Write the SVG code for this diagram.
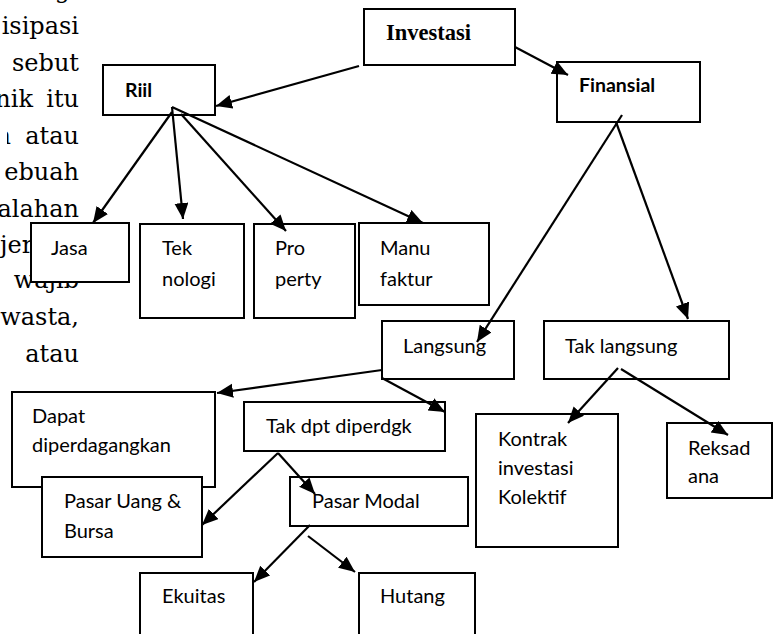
<svg xmlns="http://www.w3.org/2000/svg" width="776" height="634" viewBox="0 0 776 634">
<style>
.body{font-family:"DejaVu Serif","Liberation Serif",serif;font-size:24px;fill:#000}
.box{fill:#fff;stroke:#000;stroke-width:2}
.t{font-family:Lato,"Liberation Sans",sans-serif;font-size:20px;fill:#000}
.tb{font-family:Lato,"Liberation Sans",sans-serif;font-size:19.5px;font-weight:bold;fill:#000}
.ts{font-family:"Liberation Serif",serif;font-size:22.5px;font-weight:bold;fill:#000}
.c{stroke:#000;stroke-width:2.2;fill:none;marker-end:url(#ah)}
</style>
<defs>
<marker id="ah" markerUnits="userSpaceOnUse" markerWidth="18" markerHeight="16" refX="16" refY="7" orient="auto">
<path d="M0,0 L16,7 L0,14 z" fill="#000"/>
</marker>
<clipPath id="frag"><rect x="7" y="120" width="10" height="40"/></clipPath>
</defs>
<g id="bodytext" class="body" text-anchor="end">
<text x="70" y="-2">g</text>
<text x="79" y="34">isipasi</text>
<text x="79" y="71">sebut</text>
<text x="33" y="107">nik</text>
<text x="79" y="107">itu</text>
<text x="11" y="144" clip-path="url(#frag)">n</text>
<text x="79" y="144">atau</text>
<text x="79" y="180">ebuah</text>
<text x="79" y="217">alahan</text>
<text x="0" y="253" text-anchor="start">jer</text>
<text x="79" y="288">wajib</text>
<text x="79" y="325">wasta,</text>
<text x="79" y="362">atau</text>
</g>
<g id="investasi"><rect class="box" x="364" y="9" width="151" height="56"/><text class="ts" x="386" y="40">Investasi</text></g>
<g id="riil"><rect class="box" x="103" y="65" width="112" height="50"/><text class="tb" x="125" y="97">Riil</text></g>
<g id="finansial"><rect class="box" x="557" y="62" width="143" height="60"/><text class="tb" x="579" y="92">Finansial</text></g>
<g id="jasa"><rect class="box" x="31" y="223" width="98" height="59"/><text class="t" x="51" y="255">Jasa</text></g>
<g id="teknologi"><rect class="box" x="140" y="224" width="104" height="94"/><text class="t" x="162" y="255">Tek</text><text class="t" x="162" y="286">nologi</text></g>
<g id="property"><rect class="box" x="254" y="224" width="101" height="94"/><text class="t" x="275" y="255">Pro</text><text class="t" x="275" y="286">perty</text></g>
<g id="manufaktur"><rect class="box" x="359" y="223" width="130" height="82"/><text class="t" x="380" y="255">Manu</text><text class="t" x="380" y="286">faktur</text></g>
<g id="langsung"><rect class="box" x="382" y="321" width="132" height="58"/><text class="t" x="403" y="353">Langsung</text></g>
<g id="taklangsung"><rect class="box" x="544" y="321" width="185" height="58"/><text class="t" x="565" y="353">Tak langsung</text></g>
<g id="dapat"><rect class="box" x="12" y="392" width="203" height="95"/><text class="t" x="32" y="423">Dapat</text><text class="t" x="32" y="452">diperdagangkan</text></g>
<g id="takdpt"><rect class="box" x="244" y="402" width="201" height="49"/><text class="t" x="266" y="433">Tak dpt diperdgk</text></g>
<g id="pasaruang"><rect class="box" x="42" y="477" width="160" height="80"/><text class="t" x="64" y="508">Pasar Uang &amp;</text><text class="t" x="64" y="538">Bursa</text></g>
<g id="pasarmodal"><rect class="box" x="290" y="477" width="178" height="49"/><text class="t" x="312" y="508">Pasar Modal</text></g>
<g id="ekuitas"><rect class="box" x="140" y="573" width="113" height="70"/><text class="t" x="162" y="603">Ekuitas</text></g>
<g id="hutang"><rect class="box" x="359" y="573" width="116" height="70"/><text class="t" x="380" y="603">Hutang</text></g>
<g id="kontrak"><rect class="box" x="476" y="414" width="142" height="133"/><text class="t" x="498" y="446">Kontrak</text><text class="t" x="498" y="475">investasi</text><text class="t" x="498" y="504">Kolektif</text></g>
<g id="reksadana"><rect class="box" x="667" y="423" width="105" height="75"/><text class="t" x="688" y="455">Reksad</text><text class="t" x="688" y="483">ana</text></g>
<g id="connectors">
<line class="c" x1="359" y1="66" x2="216" y2="106"/>
<line class="c" x1="515" y1="47" x2="568" y2="75"/>
<line class="c" x1="172" y1="112" x2="93" y2="223"/>
<line class="c" x1="172" y1="107" x2="183" y2="219"/>
<line class="c" x1="181" y1="114" x2="286" y2="231"/>
<line class="c" x1="172" y1="107" x2="423" y2="223"/>
<line class="c" x1="622" y1="115" x2="477" y2="342"/>
<line class="c" x1="616" y1="122" x2="688" y2="319"/>
<line class="c" x1="382" y1="370" x2="217" y2="393"/>
<line class="c" x1="382" y1="378" x2="445" y2="412"/>
<line class="c" x1="618" y1="368" x2="568" y2="423"/>
<line class="c" x1="621" y1="369" x2="728" y2="435"/>
<line class="c" x1="278" y1="453" x2="202" y2="525"/>
<line class="c" x1="278" y1="453" x2="315" y2="494"/>
<line class="c" x1="310" y1="525" x2="254" y2="582"/>
<line class="c" x1="308" y1="536" x2="355" y2="572"/>
</g>
</svg>
